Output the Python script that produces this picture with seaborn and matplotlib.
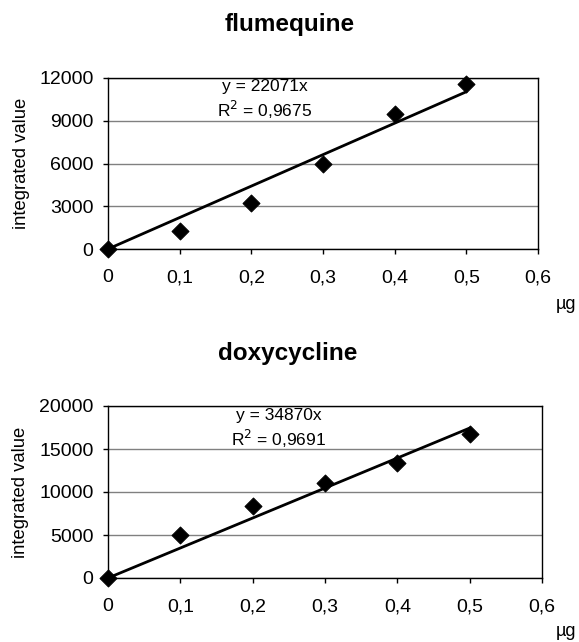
import numpy as np
import pandas as pd
import matplotlib
matplotlib.use("Agg")
import matplotlib.pyplot as plt
import seaborn as sns

# data
dose = [0, 0.1, 0.2, 0.3, 0.4, 0.5]
flumequine = [0, 1250, 3250, 6000, 9500, 11550]
doxycycline = [0, 5000, 8400, 11000, 13370, 16740]
slope_flu = 22071
slope_doxy = 34870
r2_flu = "0,9675"
r2_doxy = "0,9691"
x_labels = ["0", "0,1", "0,2", "0,3", "0,4", "0,5", "0,6"]

sns.set_style("white")
plt.rcParams["font.family"] = ["Liberation Sans", "DejaVu Sans"]
plt.rcParams["text.color"] = "black"
plt.rcParams["axes.labelcolor"] = "black"

W, H = 579, 642
fig = plt.figure(figsize=(W / 100, H / 100), dpi=100)
# axes boxes in pixels: left, top, right, bottom
ax1 = fig.add_axes([108 / W, 1 - 249 / H, 430 / W, 171 / H])
ax2 = fig.add_axes([108 / W, 1 - 578 / H, 434 / W, 172 / H])


def draw(ax, values, slope, r2, ymax, step, eq_x, eq_y, r2_y):
    df = pd.DataFrame({"dose": dose, "value": values})
    fit = pd.DataFrame({"dose": [dose[0], dose[-1]],
                        "value": [slope * dose[0], slope * dose[-1]]})
    ax.set_axisbelow(True)
    ax.yaxis.grid(True, color="#808080", linewidth=1)
    sns.lineplot(x="dose", y="value", data=fit, ax=ax, color="black", linewidth=2)
    sns.scatterplot(x="dose", y="value", data=df, ax=ax, marker="D", color="black",
                    s=75, edgecolor="black", zorder=3, clip_on=False)
    ax.set_xlim(0, 0.6)
    ax.set_ylim(0, ymax)
    ax.set_xticks(np.arange(0, 0.61, 0.1))
    ax.set_xticklabels(x_labels)
    ax.set_yticks(np.arange(0, ymax + 1, step))
    ax.tick_params(axis="both", labelsize=14, direction="out", length=3.5, width=1,
                   colors="black", left=True, bottom=True)
    ax.tick_params(axis="x", pad=11)
    ax.tick_params(axis="y", pad=7)
    for sp in ax.spines.values():
        sp.set_color("black")
        sp.set_linewidth(1)
    ax.set_xlabel("")
    ax.set_ylabel("integrated value", fontsize=13.3)
    ax.yaxis.set_label_coords(-78 / 430, 0.5)
    ax.text(eq_x, eq_y, f"y = {slope}x", fontsize=12.5, ha="center", va="center")
    ax.text(eq_x, r2_y, f"R$^2$ = {r2}", fontsize=12.5, ha="center", va="center")


draw(ax1, flumequine, slope_flu, r2_flu, 12000, 3000, 0.219, 11370, 9750)
draw(ax2, doxycycline, slope_doxy, r2_doxy, 20000, 5000, 0.236, 18950, 16140)

fig.text(290 / W, 1 - 25 / H, "flumequine", fontsize=17.5, fontweight="bold",
         ha="center", va="center")
fig.text(288 / W, 1 - 354 / H, "doxycycline", fontsize=17.5, fontweight="bold",
         ha="center", va="center")
fig.text(566 / W, 1 - 304 / H, "µg", fontsize=13, ha="center", va="center")
fig.text(566 / W, 1 - 632 / H, "µg", fontsize=13, ha="center", va="center")

fig.savefig("out.png", dpi=100)
